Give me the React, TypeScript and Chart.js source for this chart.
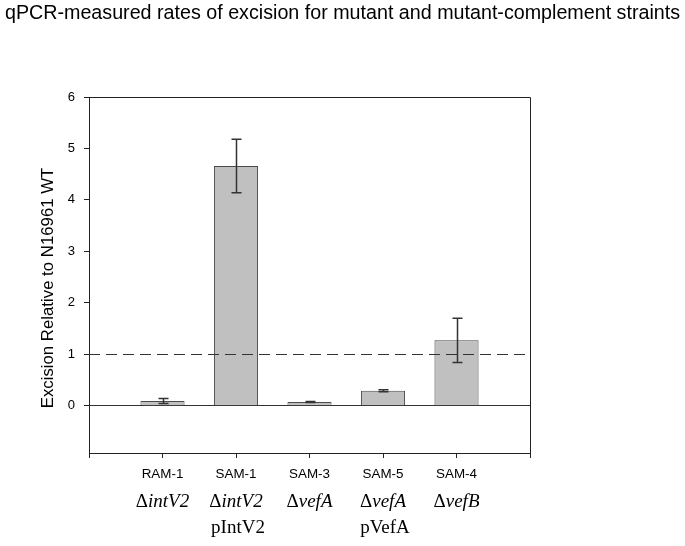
import React, { useEffect, useRef } from "react";
import { Chart, registerables } from "chart.js";

Chart.register(...registerables);

const TITLE = "qPCR-measured rates of excision for mutant and mutant-complement straints";
const Y_TITLE = "Excision Relative to N16961 WT";
const strains = ["", "RAM-1", "SAM-1", "SAM-3", "SAM-5", "SAM-4", ""];
const genotypes = ["", "intV2", "intV2", "vefA", "vefA", "vefB", ""];
const complements = ["", "", "pIntV2", "", "pVefA", "", ""];
const values = [null, 0.09, 4.66, 0.07, 0.29, 1.27, null];
const errors = [null, 0.05, 0.52, 0.01, 0.02, 0.43, null];
const yTicks = [0, 1, 2, 3, 4, 5, 6];
const yMin = -0.92;
const yMax = 6;
const refLine = 1;

const SANS = '"Liberation Sans", Arial, sans-serif';
const SERIF = '"Liberation Serif", "Times New Roman", serif';

const decorPlugin = {
  id: "decor",
  beforeDatasetsDraw(chart: any) {
    const { ctx, chartArea } = chart;
    ctx.save();
    ctx.strokeStyle = "#222";
    ctx.lineWidth = 1;
    ctx.beginPath();
    ctx.moveTo(chartArea.left, chartArea.top + 0.5);
    ctx.lineTo(chartArea.right + 0.5, chartArea.top + 0.5);
    ctx.lineTo(chartArea.right + 0.5, chartArea.bottom);
    ctx.stroke();
    ctx.restore();
  },
  afterDatasetsDraw(chart: any) {
    const { ctx, chartArea } = chart;
    const xs = chart.scales.x;
    const ys = chart.scales.y;
    ctx.save();
    // error bars
    ctx.strokeStyle = "#333";
    ctx.lineWidth = 1.5;
    values.forEach((v, i) => {
      const e = errors[i];
      if (v == null || e == null) return;
      const px = Math.round(xs.getPixelForValue(i)) + 0.5;
      const yHi = ys.getPixelForValue(v + e);
      const yLo = ys.getPixelForValue(v - e);
      ctx.beginPath();
      ctx.moveTo(px, yHi);
      ctx.lineTo(px, yLo);
      ctx.moveTo(px - 5, yHi);
      ctx.lineTo(px + 5, yHi);
      ctx.moveTo(px - 5, yLo);
      ctx.lineTo(px + 5, yLo);
      ctx.stroke();
    });
    // dashed reference line
    const yr = Math.round(ys.getPixelForValue(refLine)) + 0.5;
    ctx.setLineDash([11, 6]);
    ctx.lineWidth = 1.2;
    ctx.strokeStyle = "#333";
    ctx.beginPath();
    ctx.moveTo(chartArea.left, yr);
    ctx.lineTo(chartArea.right, yr);
    ctx.stroke();
    ctx.restore();
  },
  afterDraw(chart: any) {
    const { ctx } = chart;
    const xs = chart.scales.x;
    ctx.save();
    ctx.fillStyle = "#000";
    // main title
    ctx.font = `19.7px ${SANS}`;
    ctx.textAlign = "center";
    ctx.textBaseline = "alphabetic";
    ctx.fillText(TITLE, 342.5, 19);
    // y title
    ctx.save();
    ctx.translate(53, 288);
    ctx.rotate(-Math.PI / 2);
    ctx.font = `16.8px ${SANS}`;
    ctx.fillText(Y_TITLE, 0, 0);
    ctx.restore();
    // x labels
    strains.forEach((s, i) => {
      if (!s) return;
      const px = xs.getPixelForValue(i);
      ctx.textAlign = "center";
      ctx.font = `13.4px ${SANS}`;
      ctx.fillText(s, px, 477.5);
      // genotype line: upright delta + italic name
      ctx.textAlign = "left";
      ctx.font = `19px ${SERIF}`;
      const dW = ctx.measureText("\u0394").width;
      ctx.font = `italic 19px ${SERIF}`;
      const gW = ctx.measureText(genotypes[i]).width;
      const start = px - (dW + gW) / 2;
      ctx.font = `19px ${SERIF}`;
      ctx.fillText("\u0394", start, 507);
      ctx.font = `italic 19px ${SERIF}`;
      ctx.fillText(genotypes[i], start + dW, 507);
      if (complements[i]) {
        ctx.textAlign = "center";
        ctx.font = `19px ${SERIF}`;
        ctx.fillText(complements[i], px + 2, 533);
      }
    });
    ctx.restore();
  },
};

export default function App() {
  const ref = useRef<HTMLCanvasElement | null>(null);
  useEffect(() => {
    if (!ref.current) return;
    const chart = new Chart(ref.current, {
      type: "bar",
      data: {
        labels: strains,
        datasets: [
          {
            data: values as any,
            backgroundColor: "#c0c0c0",
            borderColor: "#4a4a4a",
            borderWidth: 1,
            barPercentage: 0.6,
            categoryPercentage: 1,
          },
        ],
      },
      options: {
        animation: false,
        responsive: false,
        maintainAspectRatio: false,
        layout: { padding: { top: 97, right: 155, bottom: 0, left: 0 } },
        plugins: {
          legend: { display: false },
          title: { display: false },
          tooltip: { enabled: false },
        },
        scales: {
          x: {
            type: "category",
            offset: false,
            grid: {
              offset: false,
              drawOnChartArea: false,
              drawTicks: true,
              tickLength: 5,
              color: "#222",
            },
            border: { display: true, color: "#222", width: 1 },
            ticks: { display: false },
            afterFit: (s: any) => {
              s.height = 93;
            },
          },
          y: {
            min: yMin,
            max: yMax,
            afterBuildTicks: (s: any) => {
              s.ticks = yTicks.map((v) => ({ value: v }));
            },
            grid: {
              drawOnChartArea: true,
              drawTicks: true,
              tickLength: 5,
              color: (c: any) => (c.tick && c.tick.value === 0 ? "#333" : "rgba(0,0,0,0)"),
              tickColor: "#222",
            },
            border: { display: true, color: "#222", width: 1 },
            ticks: {
              color: "#000",
              padding: 9,
              font: { family: SANS, size: 13 },
            },
            afterFit: (s: any) => {
              s.width = 89;
            },
          },
        },
      },
      plugins: [decorPlugin],
    });
    return () => chart.destroy();
  }, []);
  return (
    <div style={{ position: "absolute", left: 0, top: 0, width: 685, height: 546, background: "#fff" }}>
      <canvas ref={ref} width={685} height={546} style={{ width: 685, height: 546 }} />
    </div>
  );
}
